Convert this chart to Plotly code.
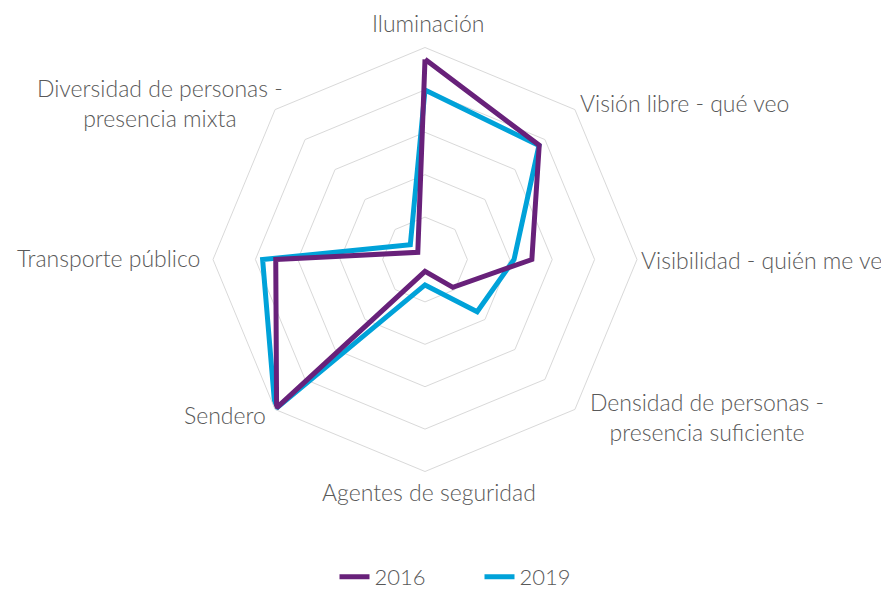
import math
import plotly.graph_objects as go

categories = [
    "Iluminación",
    "Visión libre - qué veo",
    "Visibilidad - quién me ve",
    "Densidad de personas -<br>presencia suficiente",
    "Agentes de seguridad",
    "Sendero",
    "Transporte público",
    "Diversidad de personas -<br>presencia mixta",
]
values_2016 = [47.2, 38.1, 25.2, 9.3, 2.8, 49.5, 35.2, 2.4]
values_2019 = [40.0, 38.0, 21.0, 17.4, 6.0, 50.0, 38.3, 4.9]

PURPLE = "#68217a"
BLUE = "#00a2d9"
GRID = "#d9d9d9"
TEXT = "#595959"
FONT = "Lato"

# label placement style (pixel offset from the outer vertex, anchor)
label_style = [
    (2.5, -24.5, "center"),
    (3, -6.6, "left"),
    (2, 0.5, "left"),
    (132, 7.6, "center"),
    (4, 20.5, "center"),
    (-7, 5.6, "right"),
    (-11, -1.5, "right"),
    (-115, -6.6, "center"),
]

# page has an 8px body margin at top-left
OFF = 8
W, H = 889 - OFF, 591 - OFF
cx, cy, R = 425 - OFF, 259.5 - OFF, 212

fig = go.Figure()
fig.add_trace(go.Scatterpolar(
    r=values_2019 + values_2019[:1], theta=categories + categories[:1],
    mode="lines", name="2019", line=dict(color=BLUE, width=5), legendrank=2,
))
fig.add_trace(go.Scatterpolar(
    r=values_2016 + values_2016[:1], theta=categories + categories[:1],
    mode="lines", name="2016", line=dict(color=PURPLE, width=5), legendrank=1,
))

annotations = []
n = len(categories)
for i, (cat, (dx, dy, xa)) in enumerate(zip(categories, label_style)):
    ang = 2 * math.pi * i / n
    vx = cx + R * math.sin(ang)
    vy = cy - R * math.cos(ang)
    annotations.append(dict(
        text=cat, xref="paper", yref="paper",
        x=(vx + dx) / W, y=1 - (vy + dy) / H,
        xanchor=xa, yanchor="middle", align="center", showarrow=False,
        font=dict(family=FONT, size=23, color=TEXT, weight=300),
    ))

fig.update_layout(
    width=W, height=H,
    margin=dict(l=0, r=0, t=0, b=0, autoexpand=False),
    paper_bgcolor="white", plot_bgcolor="white",
    font=dict(family=FONT, size=22, color=TEXT, weight=300),
    annotations=annotations,
    polar=dict(
        domain=dict(x=[(cx - R) / W, (cx + R) / W], y=[(H - cy - R) / H, (H - cy + R) / H]),
        gridshape="linear",
        bgcolor="white",
        radialaxis=dict(range=[0, 50], dtick=10, showticklabels=False, ticks="",
                        showline=False, gridcolor=GRID, gridwidth=1),
        angularaxis=dict(rotation=90, direction="clockwise", showgrid=False,
                         showline=True, linecolor=GRID, linewidth=1, ticks="",
                         showticklabels=False),
    ),
    legend=dict(orientation="h", x=471.5 / W, xanchor="center", y=1 - (577 - OFF) / H, yanchor="middle",
                font=dict(family=FONT, size=22, color=TEXT, weight=300),
                traceorder="normal", entrywidth=100, itemwidth=30),
)
fig.write_html("out.html")
